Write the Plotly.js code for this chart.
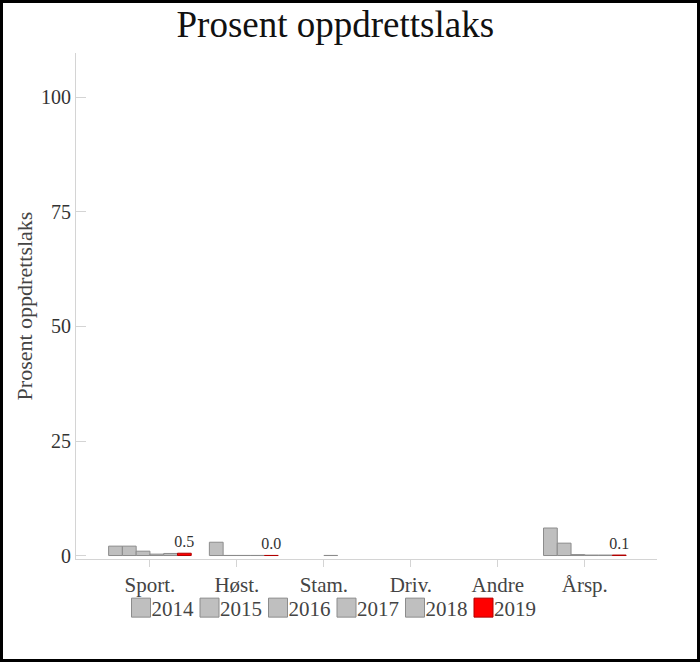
<!DOCTYPE html>
<html>
<head>
<meta charset="utf-8">
<script src="https://cdn.plot.ly/plotly-3.0.1.min.js"></script>
<style>
html,body{margin:0;padding:0;background:#fff;}
#wrap{position:relative;width:700px;height:662px;}
#chart{width:700px;height:662px;}
#frame{position:absolute;left:0;top:0;width:700px;height:662px;box-sizing:border-box;border:3px solid #000;pointer-events:none;}
</style>
</head>
<body>
<div id="wrap"><div id="chart"></div><div id="frame"></div></div>
<script>
const categories = ['Sport.', 'Høst.', 'Stam.', 'Driv.', 'Andre', 'Årsp.'];
const years = ['2014', '2015', '2016', '2017', '2018', '2019'];
const v2014 = [2.05, null, null, null, null, 6.0];
const v2015 = [2.05, 2.9, null, null, null, 2.7];
const v2016 = [0.95, 0.02, null, null, null, 0.2];
const v2017 = [0.3, 0.02, 0.02, null, null, 0.1];
const v2018 = [0.45, 0.02, null, null, null, 0.1];
const v2019 = [0.5, 0.02, null, null, null, 0.1];
const yTickVals = [0, 25, 50, 75, 100];

const series = [v2014, v2015, v2016, v2017, v2018, v2019];
const FONT = '"Liberation Serif", "Times New Roman", serif';

const traces = series.map((vals, i) => {
  const last = i === series.length - 1;
  const t = {
    type: 'bar',
    name: years[i],
    x: categories,
    y: vals,
    marker: {
      color: last ? '#ff0000' : '#bfbfbf',
      line: {color: last ? '#b00000' : '#8c8c8c', width: 1}
    },
    hoverinfo: 'x+y+name',
    cliponaxis: false
  };
  if (last) {
    t.texttemplate = '%{y:.1f}';
    t.textposition = 'outside';
    t.constraintext = 'none';
    t.textfont = {family: FONT, size: 16, color: '#333'};
  }
  return t;
});

const layout = {
  width: 700, height: 662,
  paper_bgcolor: '#fff', plot_bgcolor: '#fff',
  font: {family: FONT, color: '#444'},
  title: {text: 'Prosent oppdrettslaks', font: {family: FONT, size: 37, color: '#111'},
          x: 0.479, xref: 'container', xanchor: 'center', y: 0.964, yref: 'container', yanchor: 'middle'},
  margin: {l: 76, r: 43, t: 53, b: 103, pad: 0},
  barmode: 'group', bargap: 0.05, bargroupgap: 0,
  showlegend: true,
  legend: {orientation: 'h', xref: 'container', yref: 'container', x: 0.1593, xanchor: 'left',
           y: 0.0816, yanchor: 'middle', font: {family: FONT, size: 21, color: '#444'},
           entrywidth: 23.5, entrywidthmode: 'pixels', traceorder: 'normal', bgcolor: 'rgba(0,0,0,0)'},
  xaxis: {type: 'category', range: [-0.85, 5.83], showline: true, linecolor: '#d4d4d4', linewidth: 1,
          ticks: 'outside', ticklen: 7, tickcolor: '#d4d4d4', showgrid: false, zeroline: false,
          tickfont: {family: FONT, size: 21, color: '#444'}, fixedrange: true},
  yaxis: {range: [-0.76, 109.7], tickvals: yTickVals, showline: true, linecolor: '#d4d4d4', linewidth: 1,
          ticks: 'inside', ticklen: 10, tickcolor: '#d4d4d4', showgrid: false, zeroline: false,
          tickfont: {family: FONT, size: 20, color: '#333'},
          title: {text: 'Prosent oppdrettslaks', font: {family: FONT, size: 22, color: '#444'}, standoff: 2},
          fixedrange: true}
};

function isInLegend(n, root) {
  while (n && n !== root) {
    if (n.classList && (n.classList.contains('legend') || n.classList.contains('legendsymbols'))) return true;
    n = n.parentNode;
  }
  return false;
}

function fixLegend() {
  try {
    const root = document.getElementById('chart');
    root.querySelectorAll('[clip-path]').forEach(e => {
      if (isInLegend(e, root)) e.removeAttribute('clip-path');
    });
    const items = root.querySelectorAll('g.traces');
    items.forEach(g => {
      const txt = g.querySelector('text.legendtext') || g.querySelector('text');
      if (!txt) return;
      const paths = Array.from(g.querySelectorAll('path')).filter(p => {
        const d = p.getAttribute('d');
        return d && d.length > 4;
      });
      paths.forEach(p => {
        p.setAttribute('d', 'M9.5,9.5H-9.5V-9.5H9.5Z');
        p.setAttribute('transform', 'translate(0,0)');
        const pr = p.getBoundingClientRect();
        const tr = txt.getBoundingClientRect();
        const dx = (tr.left - 1) - pr.right;
        p.setAttribute('transform', 'translate(' + dx.toFixed(2) + ',0)');
      });
    });
  } catch (e) {}
}

const gd = document.getElementById('chart');
Plotly.newPlot(gd, traces, layout, {displayModeBar: false}).then(() => {
  fixLegend();
  gd.on('plotly_afterplot', () => setTimeout(fixLegend, 0));
  setTimeout(fixLegend, 30);
  setTimeout(fixLegend, 150);
  setTimeout(fixLegend, 400);
});
</script>
</body>
</html>
